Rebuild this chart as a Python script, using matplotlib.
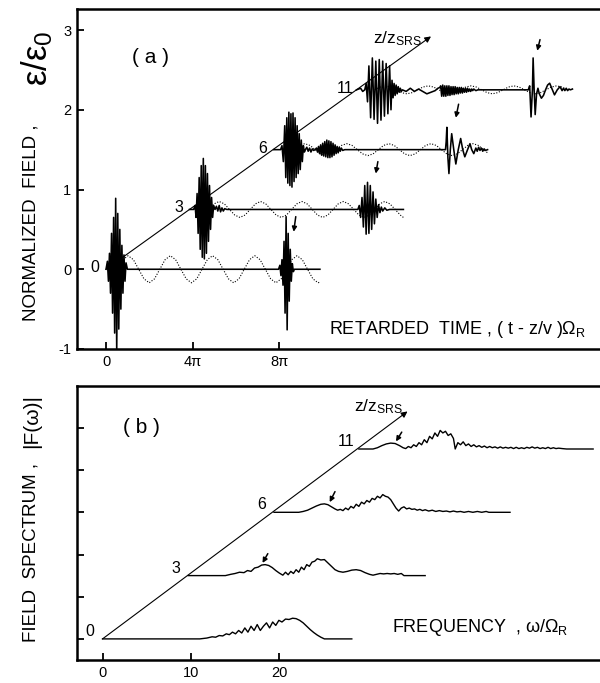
import numpy as np
import matplotlib
matplotlib.use("Agg")
import matplotlib.pyplot as plt

plt.rcParams['font.family'] = ['Liberation Sans', 'DejaVu Sans']
plt.rcParams['mathtext.fontset'] = 'custom'
plt.rcParams['mathtext.rm'] = 'Liberation Sans'
plt.rcParams['mathtext.it'] = 'Liberation Sans'
plt.rcParams['mathtext.bf'] = 'Liberation Sans:bold'

# ---------------- panel (a): field traces (local time, value) ----------------
a_labels = ['0', '3', '6', '11']
a_shift_t = [0.0, 12.1, 24.3, 36.3]
a_shift_v = [0.0, 0.75, 1.5, 2.25]

a0_t = [0.0, 0.2, 0.35, 0.5, 0.65, 0.8, 0.95, 1.1, 1.25, 1.4, 1.55, 1.7, 1.85, 2.0, 2.15, 2.3, 2.45, 2.6, 2.75, 2.9, 3.1,
        25.0, 25.2, 25.35, 25.5, 25.65, 25.8, 25.95, 26.1, 26.25, 26.4, 26.55, 26.7, 26.85, 27.0, 27.15, 27.3, 31.0]
a0_v = [0.0, 0.1, -0.15, 0.2, -0.3, 0.45, -0.55, 0.65, -0.8, 0.89, -1.05, 0.7, -0.75, 0.5, -0.5, 0.3, -0.3, 0.18, -0.15, 0.08, 0.0,
        0.0, 0.05, -0.08, 0.12, -0.2, 0.35, -0.55, 0.66, -0.76, 0.45, -0.4, 0.25, -0.15, 0.07, -0.03, 0.0, 0.0]

a3_t = [0.0, 0.6, 0.8, 0.95, 1.1, 1.25, 1.4, 1.55, 1.7, 1.85, 2.0, 2.15, 2.3, 2.45, 2.6, 2.75, 2.9, 3.05, 3.2, 3.35,
        3.5, 3.7, 3.9, 4.1, 4.3, 4.5, 4.7, 4.9, 5.1, 5.4,
        24.4, 24.6, 24.8, 25.0, 25.2, 25.4, 25.6, 25.8, 26.0, 26.2, 26.4, 26.6, 26.8, 27.0, 27.2, 27.4, 27.6, 27.8, 28.0,
        28.3, 28.6, 29.0, 31.0]
a3_v = [0.0, 0.0, 0.05, -0.1, 0.2, -0.3, 0.4, -0.5, 0.55, -0.6, 0.64, -0.62, 0.55, -0.55, 0.45, -0.4, 0.3, -0.25, 0.15, -0.1,
        0.05, 0.0, 0.04, -0.02, 0.05, -0.03, 0.02, -0.02, 0.01, 0.0,
        0.0, 0.05, -0.1, 0.15, -0.22, 0.3, -0.31, 0.34, -0.3, 0.3, -0.25, 0.22, -0.18, 0.13, -0.1, 0.06, -0.04, 0.03, -0.02,
        0.02, -0.01, 0.0, 0.0]

a6_t = [0.0, 1.0, 1.2, 1.4, 1.6, 1.75, 1.9, 2.05, 2.2, 2.35, 2.5, 2.65, 2.8, 2.95, 3.1, 3.25, 3.4, 3.55, 3.7, 3.85,
        4.0, 4.15, 4.3, 4.45, 4.6, 4.8, 5.0, 5.2, 5.4, 5.6, 5.8, 6.0,
        6.2, 6.35, 6.5, 6.65, 6.8, 6.95, 7.1, 7.25, 7.4, 7.55, 7.7, 7.85, 8.0, 8.15, 8.3, 8.45, 8.6, 8.75, 8.9, 9.05,
        9.2, 9.35, 9.5, 9.65, 9.8, 10.0, 10.3,
        24.9, 25.0, 25.1, 25.25, 25.4, 25.6, 25.8, 26.1, 26.4, 26.75, 27.1, 27.4, 27.7, 28.1, 28.45, 28.7, 29.0, 29.3,
        29.5, 29.7, 29.9, 30.1, 30.3, 30.5, 30.7, 31.0]
a6_v = [0.0, 0.0, 0.05, -0.15, 0.3, -0.35, 0.4, -0.42, 0.47, -0.45, 0.45, -0.47, 0.46, -0.4, 0.4, -0.35, 0.3, -0.3, 0.2, -0.25,
        0.12, -0.15, 0.05, -0.03, 0.0, 0.03, -0.02, 0.02, -0.03, 0.01, -0.01, 0.0,
        0.02, -0.03, 0.04, -0.05, 0.06, -0.07, 0.08, -0.08, 0.1, -0.09, 0.12, -0.1, 0.11, -0.1, 0.1, -0.09, 0.08, -0.07, 0.06, -0.05,
        0.04, -0.04, 0.03, -0.02, 0.02, -0.01, 0.0,
        0.0, 0.1, 0.28, -0.1, -0.3, 0.0, 0.2, 0.0, -0.18, 0.0, 0.14, 0.0, -0.09, 0.0, 0.075, 0.0, -0.05, 0.02,
        -0.02, 0.03, -0.01, 0.02, -0.02, 0.01, -0.01, 0.0]

a11_t = [0.0, 0.6, 0.9, 1.2, 1.4, 1.6, 1.8, 2.05, 2.3, 2.55, 2.8, 3.05, 3.3, 3.55, 3.8, 4.05, 4.3, 4.55, 4.8, 5.0,
         5.15, 5.3, 5.45, 5.6, 5.75, 5.9, 6.05, 6.2, 6.35, 6.5, 6.65,
         7.2, 7.8, 8.4, 9.0, 9.6, 10.2, 10.8, 11.4, 11.8,
         12.1, 12.2, 12.35, 12.5, 12.65, 12.8, 12.95, 13.1, 13.25, 13.4, 13.55, 13.7, 13.85, 14.0, 14.15, 14.3, 14.45,
         14.6, 14.75, 14.9, 15.05, 15.2, 15.35, 15.5, 15.65, 15.8, 15.95, 16.1, 16.25, 16.4, 16.55, 16.7, 16.85, 17.0,
         17.3, 17.6,
         24.9, 25.1, 25.3, 25.5, 25.6, 25.75, 25.9, 26.1, 26.3, 26.5, 26.8, 27.1, 27.4, 27.7, 28.0, 28.3, 28.7, 29.1,
         29.5, 29.8, 30.0, 30.2, 30.4, 30.6, 30.8, 31.0, 31.3]
a11_v = [0.0, 0.02, -0.02, 0.0, 0.08, -0.15, 0.3, -0.35, 0.4, -0.37, 0.36, -0.42, 0.38, -0.38, 0.36, -0.33, 0.33, -0.3, 0.3, -0.25,
         0.12, -0.1, 0.08, -0.07, 0.06, -0.05, 0.04, -0.03, 0.02, -0.02, 0.0,
         -0.02, 0.02, -0.02, 0.01, -0.02, -0.05, -0.03, -0.01, 0.02,
         0.03, 0.05, -0.08, 0.06, -0.08, 0.05, -0.08, 0.05, -0.07, 0.05, -0.07, 0.04, -0.06, 0.04, -0.06, 0.04, -0.05,
         0.03, -0.05, 0.03, -0.04, 0.03, -0.04, 0.02, -0.03, 0.02, -0.03, 0.02, -0.02, 0.01, -0.02, 0.01, -0.01, 0.01,
         -0.01, 0.0,
         0.0, 0.05, -0.34, 0.0, 0.4, 0.0, -0.31, -0.05, 0.02, -0.05, -0.105, -0.07, 0.0, 0.06, 0.083, 0.02, -0.063, 0.0,
         0.04, -0.01, 0.02, -0.01, 0.02, -0.01, 0.01, 0.0, 0.01]

# dotted (Raman) oscillation samples, local time
d0_t = [1.67, 2.44, 3.20, 3.97, 4.73, 5.50, 6.26, 7.03, 7.79, 8.56, 9.32, 10.09, 10.85, 11.62, 12.38, 13.15,
        13.91, 14.68, 15.44, 16.21, 16.97, 17.74, 18.50, 19.27, 20.03, 20.80, 21.56, 22.33, 23.09, 23.86, 24.62,
        25.39, 26.15, 26.92, 27.68, 28.45, 29.21, 29.98, 30.74, 31.0]
d0_v = [0, .12, .17, .12, 0, -.12, -.17, -.12, 0, .12, .17, .12, 0, -.12, -.17, -.12,
        0, .12, .17, .12, 0, -.12, -.17, -.12, 0, .12, .17, .12, 0, -.12, -.17,
        -.12, 0, .12, .17, .12, 0, -.12, -.17, -.16]
d3_t = [2.80, 3.55, 4.30, 5.05, 5.80, 6.55, 7.30, 8.05, 8.80, 9.55, 10.30, 11.05, 11.80, 12.55, 13.30, 14.05,
        14.80, 15.55, 16.30, 17.05, 17.80, 18.55, 19.30, 20.05, 20.80, 21.55, 22.30, 23.05, 23.80, 24.55, 25.30,
        26.05, 26.80, 27.55, 28.30, 29.05, 29.80, 30.55, 31.0]
d3_v = [0, .07, .10, .07, 0, -.07, -.10, -.07, 0, .07, .10, .07, 0, -.07, -.10, -.07,
        0, .07, .10, .07, 0, -.07, -.10, -.07, 0, .07, .10, .07, 0, -.07, -.10,
        -.07, 0, .07, .10, .07, 0, -.07, -.10]
d6_t = [2.97, 3.73, 4.50, 5.26, 6.02, 6.78, 7.55, 8.31, 9.07, 9.83, 10.60, 11.36, 12.12, 12.88, 13.65, 14.41,
        15.17, 15.93, 16.70, 17.46, 18.22, 18.98, 19.75, 20.51, 21.27, 22.03, 22.80, 23.56, 24.32, 25.08, 25.85,
        26.61, 27.37, 28.13, 28.90, 29.66, 30.42, 31.0]
d6_v = [0, .053, .075, .053, 0, -.053, -.075, -.053, 0, .053, .075, .053, 0, -.053, -.075, -.053,
        0, .053, .075, .053, 0, -.053, -.075, -.053, 0, .053, .075, .053, 0, -.053, -.075,
        -.053, 0, .053, .075, .053, 0, -.04]
d11_t = [2.65, 3.43, 4.20, 4.98, 5.75, 6.53, 7.30, 8.08, 8.85, 9.63, 10.40, 11.18, 11.95, 12.73, 13.50, 14.28,
         15.05, 15.83, 16.60, 17.38, 18.15, 18.93, 19.70, 20.48, 21.25, 22.03, 22.80, 23.58, 24.35, 25.13, 25.90,
         26.68, 27.45, 28.23, 29.00, 29.78, 30.55]
d11_v = [0, .035, .05, .035, 0, -.035, -.05, -.035, 0, .035, .05, .035, 0, -.035, -.05, -.035,
         0, .035, .05, .035, 0, -.035, -.05, -.035, 0, .035, .05, .035, 0, -.035, -.05,
         -.035, 0, .035, .05, .035, 0]

# ---------------- panel (b): spectra (local frequency, amplitude) ----------------
b_shift_f = [0.0, 9.7, 19.4, 29.0]
b_shift_s = [0.0, 1.5, 3.0, 4.5]

b0_f = [0.0, 11.0, 11.8, 12.4, 12.8, 13.2, 13.6, 14.0, 14.35, 14.7, 15.05, 15.4, 15.75, 16.1, 16.45, 16.8, 17.15,
        17.5, 17.85, 18.2, 18.55, 18.9, 19.25, 19.6, 19.95, 20.3, 20.7, 21.1, 21.5, 21.9, 22.3, 22.7, 23.1, 23.5,
        23.9, 24.3, 24.7, 25.1, 28.2]
b0_s = [0.0, 0.0, 0.02, 0.05, 0.04, 0.08, 0.07, 0.12, 0.1, 0.16, 0.12, 0.2, 0.14, 0.26, 0.16, 0.3, 0.2,
        0.34, 0.2, 0.3, 0.38, 0.26, 0.4, 0.32, 0.44, 0.4, 0.47, 0.46, 0.49, 0.48, 0.44, 0.38, 0.3, 0.22,
        0.15, 0.09, 0.04, 0.0, 0.0]
b3_f = [0.0, 4.2, 4.8, 5.3, 5.8, 6.3, 6.7, 7.1, 7.5, 7.9, 8.3, 8.7, 9.1, 9.5, 9.9, 10.3, 10.7, 11.0, 11.3, 11.6,
        11.9, 12.2, 12.5, 12.8, 13.1, 13.4, 13.7, 14.0, 14.3, 14.6, 15.0, 15.4, 15.8, 16.2, 16.6, 17.0, 17.5, 18.0,
        18.5, 19.0, 19.5, 20.0, 20.5, 20.9, 21.3, 21.7, 22.1, 22.5, 22.9, 23.3, 23.7, 24.1, 24.4, 26.8]
b3_s = [0.0, 0.0, 0.03, 0.05, 0.08, 0.07, 0.12, 0.1, 0.18, 0.2, 0.25, 0.26, 0.24, 0.19, 0.12, 0.06, 0.01, 0.08, 0.02, 0.1,
        0.05, 0.14, 0.08, 0.2, 0.14, 0.26, 0.22, 0.32, 0.34, 0.4, 0.37, 0.38, 0.3, 0.22, 0.14, 0.1, 0.08, 0.1,
        0.13, 0.14, 0.12, 0.07, 0.03, 0.01, 0.03, 0.05, 0.04, 0.05, 0.04, 0.05, 0.03, 0.05, 0.0, 0.0]
b6_f = [0.0, 2.8, 3.3, 3.8, 4.3, 4.8, 5.3, 5.7, 6.1, 6.5, 6.9, 7.2, 7.5, 7.8, 8.1, 8.4, 8.7, 9.0, 9.3, 9.6,
        9.9, 10.2, 10.5, 10.8, 11.1, 11.4, 11.7, 12.0, 12.3, 12.6, 12.9, 13.2, 13.5, 13.8, 14.1, 14.4, 14.7, 15.0,
        15.3, 15.6, 15.9, 16.2, 16.5, 16.8, 17.1, 17.5, 17.9, 18.3, 18.7, 19.1, 19.5, 19.9, 20.3, 20.7, 21.1, 21.5,
        22.0, 22.5, 23.0, 23.5, 24.0, 24.3, 26.7]
b6_s = [0.0, 0.0, 0.02, 0.05, 0.1, 0.15, 0.19, 0.2, 0.18, 0.13, 0.08, 0.05, 0.07, 0.04, 0.1, 0.06, 0.14, 0.1, 0.19, 0.14,
        0.24, 0.2, 0.28, 0.24, 0.33, 0.3, 0.38, 0.34, 0.42, 0.38, 0.36, 0.3, 0.2, 0.1, 0.03, 0.1, 0.13, 0.08,
        0.1, 0.07, 0.08, 0.05, 0.07, 0.04, 0.06, 0.03, 0.05, 0.02, 0.04, 0.02, 0.03, 0.01, 0.03, 0.01, 0.02, 0.0,
        0.02, 0.0, 0.02, 0.0, 0.02, 0.0, 0.0]
b11_f = [0.0, 1.6, 2.1, 2.6, 3.1, 3.6, 4.1, 4.6, 5.0, 5.3, 5.6, 5.9, 6.2, 6.5, 6.8, 7.1, 7.4, 7.7, 8.0, 8.3,
         8.6, 8.9, 9.2, 9.5, 9.8, 10.1, 10.4, 10.7, 10.9, 11.2, 11.5, 11.8, 12.1, 12.4, 12.7, 13.0, 13.3, 13.6,
         13.9, 14.2, 14.5, 14.8, 15.1, 15.4, 15.7, 16.0, 16.3, 16.6, 16.9, 17.2, 17.5, 17.8, 18.1, 18.4, 18.7,
         19.0, 19.3, 19.6, 19.9, 20.2, 20.5, 20.8, 21.1, 21.4, 21.7, 22.0, 22.3, 22.6, 23.0, 23.5, 26.5]
b11_s = [0.0, 0.0, 0.03, 0.08, 0.12, 0.14, 0.13, 0.08, 0.03, 0.01, 0.06, 0.03, 0.1, 0.06, 0.15, 0.1, 0.22, 0.15, 0.3, 0.24,
         0.38, 0.3, 0.44, 0.38, 0.42, 0.32, 0.36, 0.25, 0.0, 0.15, 0.1, 0.17, 0.08, 0.12, 0.06, 0.1, 0.05, 0.08,
         0.04, 0.07, 0.03, 0.06, 0.03, 0.05, 0.02, 0.05, 0.02, 0.04, 0.02, 0.04, 0.01, 0.04, 0.01, 0.03, 0.01,
         0.04, 0.02, 0.05, 0.02, 0.04, 0.01, 0.03, 0.01, 0.04, 0.01, 0.03, 0.01, 0.02, 0.01, 0.0, 0.0]

a_traces = [(a0_t, a0_v), (a3_t, a3_v), (a6_t, a6_v), (a11_t, a11_v)]
a_dots = [(d0_t, d0_v), (d3_t, d3_v), (d6_t, d6_v), (d11_t, d11_v)]
b_traces = [(b0_f, b0_s), (b3_f, b3_s), (b6_f, b6_s), (b11_f, b11_s)]

# ---------------- figure ----------------
W, H = 600, 683
fig = plt.figure(figsize=(W / 100, H / 100), dpi=100)


def axes_px(left, top, right, bottom):
    return fig.add_axes([left / W, 1 - bottom / H, (right - left) / W, (bottom - top) / H])


axa = axes_px(76.7, 9.3, 623.5, 349)
axb = axes_px(76.7, 385.7, 632.9, 660)
axa.set_xlim(-4.25, 75.0)
axa.set_ylim(-1.0, 3.26)
axb.set_xlim(-2.92, 60.0)
axb.set_ylim(-0.5, 6.0)

for ax in (axa, axb):
    for s in ax.spines.values():
        s.set_linewidth(1.8)
    ax.tick_params(direction='in', length=5, width=1.3, labelsize=10.5, top=False, right=False, pad=4)

axa.set_yticks([-1, 0, 1, 2, 3])
axa.set_yticklabels(['-1', '0', '1', '2', '3'])
axa.set_xticks([0, 4 * np.pi, 8 * np.pi])
axa.set_xticklabels(['0', '4π', '8π'])
axb.set_yticks([0, 1, 2, 3, 4, 5])
axb.set_yticklabels([])
axb.set_xticks([0, 10, 20])
axb.set_xticklabels(['0', '10', '20'])

# panel (a) traces
for i, ((t, v), (dt, dv)) in enumerate(zip(a_traces, a_dots)):
    x0, y0 = a_shift_t[i], a_shift_v[i]
    axa.plot(np.array(dt) + x0, np.array(dv) + y0, color='k', lw=0.8, ls=(0, (1, 1.5)))
    axa.plot(np.array(t) + x0, np.array(v) + y0, color='k', lw=1.15)
    axa.text(x0 - 1.6, y0 + 0.02, a_labels[i], fontsize=11.5, ha='center', va='center')

axa.annotate('', xy=(47.1, 2.92), xytext=(0.0, 0.0),
             arrowprops=dict(arrowstyle='-|>', lw=0.8, color='k', mutation_scale=9, shrinkA=0, shrinkB=0))
for tail, head in [((27.5, 0.66), (27.2, 0.47)), ((39.4, 1.35), (39.1, 1.20)),
                   ((51.1, 2.07), (50.7, 1.90)), ((62.9, 2.88), (62.5, 2.74))]:
    axa.annotate('', xy=head, xytext=tail,
                 arrowprops=dict(arrowstyle='-|>', lw=1.1, color='k', mutation_scale=7, shrinkA=0, shrinkB=0))

axa.text(38.7, 2.89, r'z/z$_{\mathrm{SRS}}$', fontsize=12.5, ha='left', va='center')
axa.text(6.5, 2.65, '( a )', fontsize=15, ha='center', va='center')
axa.text(32.3, -0.76, 'RETARDED  TIME , ( t - z/v )Ω' + r'$_{\mathrm{R}}$', fontsize=13,
         ha='left', va='center')

# panel (b) traces
for i, (f, s) in enumerate(b_traces):
    x0, y0 = b_shift_f[i], b_shift_s[i]
    axb.plot(np.array(f) + x0, np.array(s) + y0, color='k', lw=1.0)
    axb.text(x0 - 1.4, y0 + 0.18, a_labels[i], fontsize=11.5, ha='center', va='center')

axb.annotate('', xy=(34.5, 5.39), xytext=(0.0, 0.0),
             arrowprops=dict(arrowstyle='-|>', lw=0.8, color='k', mutation_scale=9, shrinkA=0, shrinkB=0))
for tail, head in [((18.7, 2.02), (18.1, 1.80)), ((26.3, 3.49), (25.7, 3.24)), ((33.85, 4.90), (33.2, 4.68))]:
    axb.annotate('', xy=head, xytext=tail,
                 arrowprops=dict(arrowstyle='-|>', lw=1.1, color='k', mutation_scale=7, shrinkA=0, shrinkB=0))

axb.text(28.45, 5.5, r'z/z$_{\mathrm{SRS}}$', fontsize=12.5, ha='left', va='center')
axb.text(4.4, 5.0, '( b )', fontsize=15, ha='center', va='center')
axb.text(32.7, 0.26, 'FREQUENCY  , ω/Ω' + r'$_{\mathrm{R}}$', fontsize=13, ha='left', va='center')

# y labels
fig.text(31.5 / W, 1 - 222.5 / H, 'NORMALIZED  FIELD ,', rotation=90, fontsize=13.5, ha='center', va='center')
fig.text(37 / W, 1 - 58 / H, 'ε/ε' + r'$_{0}$', rotation=90, fontsize=25,
         ha='center', va='center')
fig.text(31.5 / W, 1 - 553 / H, 'FIELD  SPECTRUM ,', rotation=90, fontsize=13.5, ha='center', va='center')
fig.text(31.5 / W, 1 - 421 / H, '|F(ω)|', rotation=90, fontsize=15, ha='center', va='center')

fig.savefig('out.png', dpi=100)
